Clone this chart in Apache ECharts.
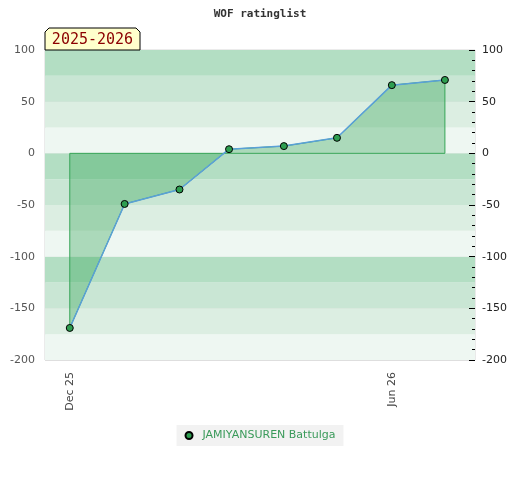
<!DOCTYPE html>
<html>
<head>
<meta charset="utf-8">
<script src="https://cdn.jsdelivr.net/npm/echarts@6/dist/echarts.min.js"></script>
<style>html,body{margin:0;padding:0;background:#fff}#c{width:520px;height:480px}</style>
</head>
<body>
<div id="c"></div>
<script>
var chartTitle = 'WOF ratinglist';
var seasonLabel = '2025-2026';
var playerName = 'JAMIYANSUREN Battulga';
var dates = ['2025-12-01','2026-01-01','2026-02-01','2026-03-01','2026-04-01','2026-05-01','2026-06-01','2026-07-01'];
var ratings = [-169, -49, -35, 4, 7, 15, 66, 71];
var xTickDates = ['2025-12-01','2026-06-01'];
var xRange = ['2025-11-17','2026-07-18'];
var yTicks = [-200, 100];

function ts(s){ var p = s.split('-'); return new Date(+p[0], +p[1]-1, +p[2]).getTime(); }
var monthNames = ['Jan','Feb','Mar','Apr','May','Jun','Jul','Aug','Sep','Oct','Nov','Dec'];
function fmt(v){ var d = new Date(v); return monthNames[d.getMonth()] + ' ' + String(d.getFullYear()).slice(2); }

var pts = dates.map(function(d,i){ return [ts(d), ratings[i]]; });
var outline = [[pts[0][0],0]].concat(pts).concat([[pts[pts.length-1][0],0],[pts[0][0],0]]);

var chart = echarts.init(document.getElementById('c'), null, {renderer:'canvas'});
chart.setOption({
  animation:false,
  title:{text:chartTitle,left:'center',top:4,textStyle:{fontFamily:'DejaVu Sans Mono',fontSize:11,fontWeight:'bold',color:'#333'}},
  grid:{left:45,right:45,top:50,bottom:120,show:true,borderColor:'#d6d6d6',borderWidth:1,backgroundColor:'transparent'},
  legend:{top:425,left:'center',backgroundColor:'#f2f2f2',padding:[5,8,5,8],itemWidth:7,itemHeight:7,
    textStyle:{color:'#3a9a5a',fontSize:11,fontFamily:'DejaVu Sans',padding:[0,0,0,5]},data:[{name:playerName,icon:'circle'}]},
  xAxis:{type:'value',min:ts(xRange[0]),max:ts(xRange[1]),
    axisLine:{show:false},axisTick:{show:false},splitLine:{show:false},
    axisLabel:{show:false}},
  yAxis:[
    {type:'value',min:yTicks[0],max:yTicks[1],interval:50,position:'left',
      axisLine:{show:false},axisTick:{show:false},
      splitLine:{show:true,lineStyle:{color:'#dedede',width:1}},
      axisLabel:{color:'#555',fontSize:11,fontFamily:'DejaVu Sans',margin:10}},
    {type:'value',min:yTicks[0],max:yTicks[1],interval:50,position:'right',
      axisLine:{show:false},splitLine:{show:false},
      axisTick:{show:true,inside:true,length:6,lineStyle:{color:'#000'}},
      minorTick:{show:true,splitNumber:5,length:3,lineStyle:{color:'#000'}},
      axisLabel:{color:'#222',fontSize:11,fontFamily:'DejaVu Sans',margin:7}},
    {type:'value',min:yTicks[0],max:yTicks[1],interval:25,position:'left',show:true,
      axisLine:{show:false},axisTick:{show:false},axisLabel:{show:false},splitLine:{show:false},
      splitArea:{show:true,areaStyle:{color:['#eef7f2','#dceee2','#c9e6d4','#b3dec3']}},z:0}
  ],
  graphic:[
    {type:'polygon',shape:{points:[[45,50],[45,32],[49,28],[136,28],[140,32],[140,50]]},style:{fill:'#ffffcc',stroke:'#000',lineWidth:1},z:10},
    {type:'text',x:92.5,y:40,style:{text:seasonLabel,font:'15px "DejaVu Sans Mono"',fill:'#8b0000',align:'center',verticalAlign:'middle'},z:11}
  ],
  series:[
    {name:'outline',type:'line',data:outline,symbol:'none',silent:true,z:2,
      lineStyle:{color:'#3aa65a',width:1},legendHoverLink:false},
    {name:playerName,type:'line',data:pts,z:3,
      symbol:'circle',symbolSize:7,
      itemStyle:{color:'#2e9e50',borderColor:'#000',borderWidth:1},
      lineStyle:{color:'#5aa0d8',width:1.5},
      areaStyle:{origin:0,color:'rgba(40,160,75,0.48)'}}
  ]
});
// x-axis tick labels positioned through the chart's own x scale
var bottomY = chart.convertToPixel({yAxisIndex:0}, yTicks[0]);
var labelGraphics = xTickDates.map(function(d){
  var x = chart.convertToPixel({xAxisIndex:0}, ts(d));
  return {type:'text',x:x,y:bottomY+12,rotation:Math.PI/2,
    style:{text:fmt(ts(d)),font:'11px "DejaVu Sans"',fill:'#444',align:'right',verticalAlign:'middle'},z:5};
});
chart.setOption({graphic:labelGraphics.map(function(g,i){ g.id='xl'+i; return g; })});
</script>
</body>
</html>
